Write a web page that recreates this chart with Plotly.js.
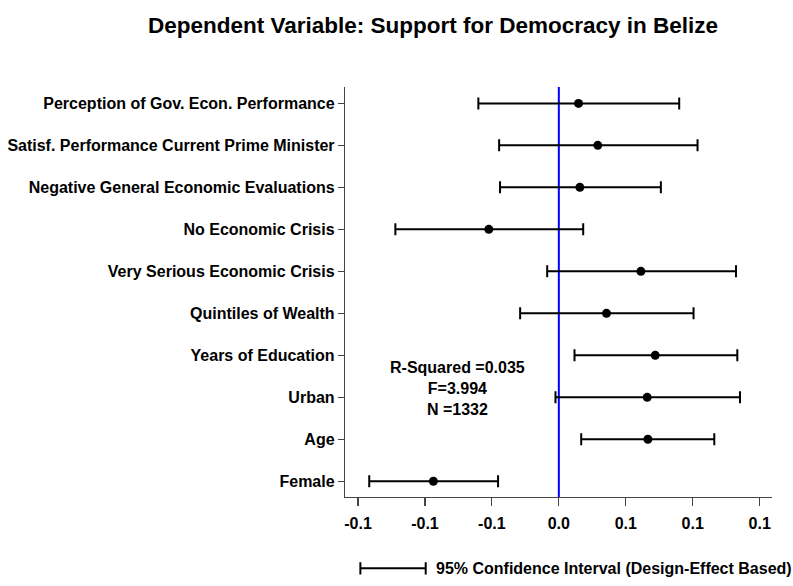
<!DOCTYPE html>
<html>
<head>
<meta charset="utf-8">
<script src="https://cdn.plot.ly/plotly-3.0.1.min.js"></script>
<style>html,body{margin:0;padding:0;background:#fff;}#chart{width:793px;height:586px;}</style>
</head>
<body>
<div id="chart"></div>
<script>
// Predictors, listed bottom to top
const predictors = [
  "Female",
  "Age",
  "Urban",
  "Years of Education",
  "Quintiles of Wealth",
  "Very Serious Economic Crisis",
  "No Economic Crisis",
  "Negative General Economic Evaluations",
  "Satisf. Performance Current Prime Minister",
  "Perception of Gov. Econ. Performance"
];
// Standardized coefficients and 95% CI bounds
const coefficients = [-0.0937, 0.0665, 0.0660, 0.0720, 0.0356, 0.0613, -0.0523, 0.0157, 0.0291, 0.0147];
const ciLower      = [-0.1416, 0.0167, -0.0025, 0.0117, -0.0289, -0.0087, -0.1221, -0.0439, -0.0446, -0.0601];
const ciUpper      = [-0.0454, 0.1161, 0.1353, 0.1333, 0.1006, 0.1323, 0.0182, 0.0762, 0.1036, 0.0899];

const tickValues = [-0.15, -0.10, -0.05, 0.0, 0.05, 0.10, 0.15];
const tickLabels = ["-0.1", "-0.1", "-0.1", "0.0", "0.1", "0.1", "0.1"];

const rowPos = predictors.map((_, i) => i + 1);
const FONT = '"Liberation Sans", Arial, sans-serif';

const trace = {
  type: "scatter",
  mode: "markers",
  x: coefficients,
  y: rowPos,
  marker: {color: "#000", size: 9},
  error_x: {
    type: "data",
    symmetric: false,
    array: coefficients.map((c, i) => ciUpper[i] - c),
    arrayminus: coefficients.map((c, i) => c - ciLower[i]),
    color: "#000",
    thickness: 2,
    width: 6
  },
  hoverinfo: "x+y",
  showlegend: false
};

const layout = {
  width: 793,
  height: 586,
  margin: {l: 345, r: 21, t: 87, b: 89},
  paper_bgcolor: "#fff",
  plot_bgcolor: "#fff",
  font: {family: FONT, size: 16, color: "#000", weight: "bold"},
  title: {
    text: "<b>Dependent Variable: Support for Democracy in Belize</b>",
    font: {family: FONT, size: 22.5, color: "#000"},
    x: 0.546, xanchor: "center", y: 0.957, yanchor: "middle"
  },
  xaxis: {
    range: [-0.1597, 0.1592],
    tickvals: tickValues,
    ticktext: tickLabels,
    ticks: "outside", ticklen: 8, tickwidth: 1.2, tickcolor: "#444",
    ticklabelstandoff: 4,
    showline: true, linecolor: "#444", linewidth: 1.2,
    showgrid: false, zeroline: false,
    tickfont: {family: FONT, size: 16, color: "#000", weight: "bold"}
  },
  yaxis: {
    range: [0.626, 10.39],
    tickvals: rowPos,
    ticktext: predictors,
    ticks: "outside", ticklen: 6, tickwidth: 1.2, tickcolor: "#444",
    showline: true, linecolor: "#444", linewidth: 1.2,
    showgrid: false, zeroline: false,
    tickfont: {family: FONT, size: 16, color: "#000", weight: "bold"}
  },
  shapes: [
    {type: "line", xref: "x", yref: "paper", x0: 0, x1: 0, y0: 0, y1: 1,
     line: {color: "#0000ff", width: 2}, layer: "below"},
    // key symbol for the confidence interval
    {type: "line", xref: "paper", yref: "paper", x0: 0.036, x1: 0.189, y0: -0.174, y1: -0.174,
     line: {color: "#000", width: 2}},
    {type: "line", xref: "paper", yref: "paper", x0: 0.036, x1: 0.036, y0: -0.159, y1: -0.189,
     line: {color: "#000", width: 2}},
    {type: "line", xref: "paper", yref: "paper", x0: 0.189, x1: 0.189, y0: -0.159, y1: -0.189,
     line: {color: "#000", width: 2}}
  ],
  annotations: [
    {xref: "x", yref: "y", x: -0.076, y: 3.22, showarrow: false, align: "center",
     text: "<b>R-Squared =0.035<br>F=3.994<br>N =1332</b>",
     font: {family: FONT, size: 16, color: "#000"}},
    {xref: "paper", yref: "paper", x: 0.208, y: -0.174, xanchor: "left", yanchor: "middle",
     showarrow: false, text: "<b>95% Confidence Interval (Design-Effect Based)</b>",
     font: {family: FONT, size: 16, color: "#000"}}
  ]
};

Plotly.newPlot("chart", [trace], layout, {displayModeBar: false, staticPlot: true});
</script>
</body>
</html>
